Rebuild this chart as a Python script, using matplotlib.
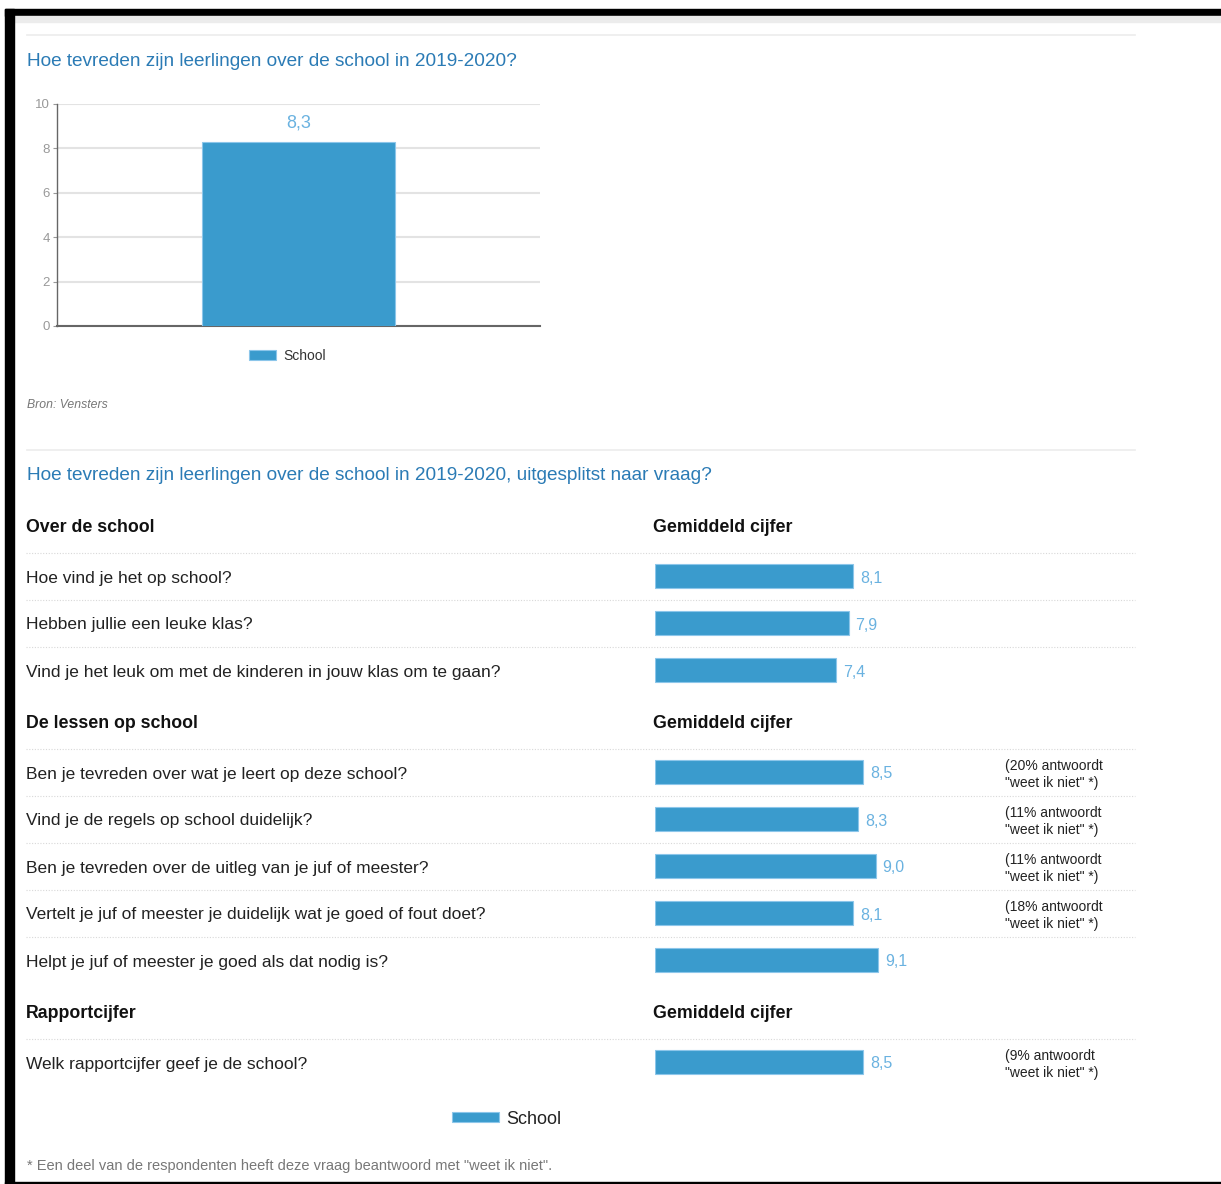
import matplotlib
matplotlib.use("Agg")
import matplotlib.pyplot as plt
from matplotlib.patches import Rectangle

plt.rcParams['font.family'] = ['Liberation Sans', 'DejaVu Sans']

# --- data ---
top_categories = ["School"]
top_values = [8.3]

sections = ["Over de school", "De lessen op school", "Rapportcijfer"]
questions = [
    ["Hoe vind je het op school?",
     "Hebben jullie een leuke klas?",
     "Vind je het leuk om met de kinderen in jouw klas om te gaan?"],
    ["Ben je tevreden over wat je leert op deze school?",
     "Vind je de regels op school duidelijk?",
     "Ben je tevreden over de uitleg van je juf of meester?",
     "Vertelt je juf of meester je duidelijk wat je goed of fout doet?",
     "Helpt je juf of meester je goed als dat nodig is?"],
    ["Welk rapportcijfer geef je de school?"],
]
scores = [
    [8.1, 7.9, 7.4],
    [8.5, 8.3, 9.0, 8.1, 9.1],
    [8.5],
]
dont_know = [
    [None, None, None],
    [20, 11, 11, 18, None],
    [9],
]

BAR = '#3a9bcd'
BAR_EDGE = '#8cc6ea'
VALUE = '#6ab2e0'
TITLE = '#2b7bb5'
DY = 2  # small vertical nudge so text sits like the screenshot

W, H = 1221, 1184
fig = plt.figure(figsize=(W / 100, H / 100), dpi=100)

# background canvas in pixel coordinates
bg = fig.add_axes([0, 0, 1, 1])
bg.set_xlim(0, W)
bg.set_ylim(H, 0)
bg.axis('off')

# screenshot frame
bg.add_patch(Rectangle((5, 9), W - 5, 7, color='black'))
bg.add_patch(Rectangle((5, 16), W - 5, 6, color='#ececec'))
bg.add_patch(Rectangle((5, 9), 9, H - 9, color='black'))
bg.add_patch(Rectangle((5, 1182), W - 5, 2, color='black'))

# section separators
bg.plot([27, 1135], [35, 35], color='#ececec', lw=1.2)
bg.plot([27, 1135], [450, 450], color='#ececec', lw=1.2)

bg.text(27, 59 + DY, "Hoe tevreden zijn leerlingen over de school in 2019-2020?",
        color=TITLE, fontsize=13.7, va='center')
bg.text(27, 403 + DY, "Bron: Vensters", color='#777777', fontsize=8.8,
        style='italic', va='center')
bg.text(27, 474 + DY, "Hoe tevreden zijn leerlingen over de school in 2019-2020, uitgesplitst naar vraag?",
        color=TITLE, fontsize=13.7, va='center')

# --- top chart ---
ax1 = fig.add_axes([57 / W, 1 - 326 / H, 483 / W, 222 / H])
ax1.bar(range(len(top_values)), top_values, width=0.4, color=BAR,
        edgecolor=BAR_EDGE, linewidth=0.8, label=top_categories[0], zorder=3)
for i, v in enumerate(top_values):
    ax1.text(i, v + 0.45, f"{v:.1f}".replace('.', ','), ha='center', va='bottom',
             color=VALUE, fontsize=13)
ax1.set_xlim(-0.5, 0.5)
ax1.set_ylim(0, 10)
ax1.set_yticks(range(0, 11, 2))
ax1.set_xticks([])
ax1.grid(axis='y', color='#e3e3e3', lw=1.5, zorder=0)
for s in ['top', 'right']:
    ax1.spines[s].set_visible(False)
ax1.spines['left'].set_color('#666666')
ax1.spines['left'].set_linewidth(1.0)
ax1.spines['bottom'].set_color('#666666')
ax1.spines['bottom'].set_linewidth(1.5)
ax1.tick_params(axis='y', colors='#999999', labelsize=9.5, length=3, pad=2,
                labelcolor='#999999')
ax1.legend(loc='center', bbox_to_anchor=(0.477, -0.135), frameon=False,
           fontsize=10, handlelength=2.0, handleheight=0.75, handletextpad=0.5,
           labelcolor='#333333')

# --- breakdown table ---
ax2 = fig.add_axes([655 / W, 1 - 1100 / H, 245 / W, 560 / H])
ax2.set_xlim(0, 10)
ax2.set_ylim(1100, 540)
ax2.axis('off')

y = 525
for s, name in enumerate(sections):
    bg.text(26, y + DY, name, fontsize=12.8, fontweight='bold', va='center', color='#111111')
    bg.text(653, y + DY, "Gemiddeld cijfer", fontsize=12.8, fontweight='bold',
            va='center', color='#111111')
    bg.plot([26, 1135], [y + 28, y + 28], color='#d8d8d8', lw=0.8, ls=(0, (1, 1.5)))
    row = y + 51
    for q, (text, v, dk) in enumerate(zip(questions[s], scores[s], dont_know[s])):
        bg.text(26, row + DY, text, fontsize=12.5, va='center', color='#222222')
        ax2.barh(row, v, height=24, color=BAR, edgecolor=BAR_EDGE, linewidth=0.8,
                 label=top_categories[0] if (s == 0 and q == 0) else None)
        ax2.text(v + 0.28, row + DY, f"{v:.1f}".replace('.', ','), va='center',
                 color=VALUE, fontsize=11.5, clip_on=False)
        if dk is not None:
            bg.text(1005, row - 8 + DY, f"({dk}% antwoordt", fontsize=10, va='center',
                    color='#222222')
            bg.text(1005, row + 9 + DY, '"weet ik niet" *)', fontsize=10, va='center',
                    color='#222222')
        if q < len(questions[s]) - 1:
            bg.plot([26, 1135], [row + 23.5, row + 23.5], color='#d8d8d8', lw=0.8,
                    ls=(0, (1, 1.5)))
        row += 47
    y = row - 47 + 51

ax2.legend(loc='center', bbox_to_anchor=(507 / W, 1 - 1119 / H),
           bbox_transform=fig.transFigure, frameon=False, fontsize=13,
           handlelength=2.6, handleheight=0.5, handletextpad=0.4,
           labelcolor='#222222')

bg.text(27, 1164 + DY, '* Een deel van de respondenten heeft deze vraag beantwoord met "weet ik niet".',
        fontsize=10.5, color='#777777', va='center')

fig.savefig("out.png", dpi=100)
